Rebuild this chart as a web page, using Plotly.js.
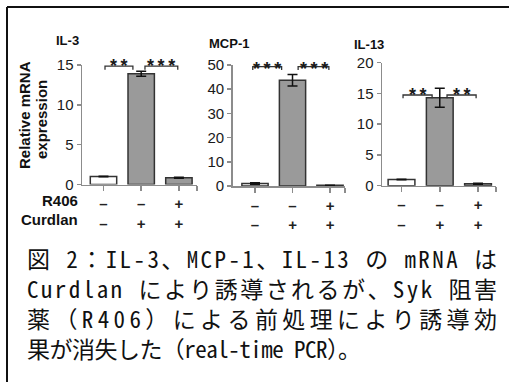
<!DOCTYPE html>
<html>
<head>
<meta charset="utf-8">
<script src="https://cdn.plot.ly/plotly-3.0.1.min.js"></script>
<style>
  html, body { margin: 0; padding: 0; background: #fff; }
  #chart { width: 509px; height: 382px; }
</style>
</head>
<body>
<div id="chart"></div>
<script>
// ---- data ----
const panelTitles = ['IL-3', 'MCP-1', 'IL-13'];
const groups = [0, 1, 2];
const r406 = ['–', '–', '+'];
const curdlan = ['–', '+', '+'];
const il3 = [1.0, 13.9, 0.85];
const il3Err = [0.03, 0.3, 0.05];
const mcp1 = [1.0, 43.7, 0.3];
const mcp1Err = [0.3, 2.4, 0.05];
const il13 = [1.0, 14.3, 0.3];
const il13Err = [0.05, 1.55, 0.08];
const yMax = [15, 50, 20];
const yTicks = [[0, 5, 10, 15], [0, 10, 20, 30, 40, 50], [0, 5, 10, 15, 20]];
const stars = [['**', '***'], ['***', '***'], ['**', '**']];
const yLabel1 = 'Relative mRNA';
const yLabel2 = 'expression';
const rowLabels = ['R406', 'Curdlan'];
const caption = [
  '図 2：IL-3、MCP-1、IL-13 の mRNA は',
  'Curdlan により誘導されるが、Syk 阻害',
  '薬（R406）による前処理により誘導効',
  '果が消失した（real-time PCR）。'
];

// ---- layout helpers (pixel -> paper) ----
const W = 509, H = 382;
const px = x => x / W;
const py = y => 1 - y / H;

const values = [il3, mcp1, il13];
const errs = [il3Err, mcp1Err, il13Err];
const xDom = [[82, 197], [232.7, 345], [382, 496]];
const yDom = [[184.5, 65], [186, 65], [185.7, 62.7]];
const xRange = [[-0.57, 2.48], [-0.595, 2.4], [-0.51, 2.47]];
const barFill = ['#ffffff', '#9a9a9a', '#9a9a9a'];
const axisGray = '#8c8c8c';
const sansFont = 'Liberation Sans, Arial, Helvetica, sans-serif';
const cjkFont = '"Noto Sans Mono CJK JP", "Noto Sans CJK JP", sans-serif';

const traces = [];
const layout = {
  width: W, height: H,
  margin: {l: 0, r: 0, t: 0, b: 0},
  paper_bgcolor: '#ffffff',
  plot_bgcolor: 'rgba(0,0,0,0)',
  showlegend: false,
  font: {family: sansFont, color: '#222'},
  shapes: [],
  annotations: []
};

for (let i = 0; i < 3; i++) {
  const s = i === 0 ? '' : String(i + 1);
  traces.push({
    type: 'bar',
    x: groups,
    y: values[i],
    width: 0.7,
    xaxis: 'x' + s,
    yaxis: 'y' + s,
    marker: {color: barFill, line: {color: '#333333', width: 1.5}},
    error_y: {type: 'data', array: errs[i], visible: true, color: '#111', thickness: 1.5, width: 5},
    hoverinfo: 'skip'
  });
  const xEnd = xRange[i][1] - 0.004;
  layout['xaxis' + s] = {
    domain: [px(xDom[i][0]), px(xDom[i][1])],
    range: xRange[i],
    anchor: 'y' + s,
    showgrid: false, zeroline: false,
    showline: true, linecolor: axisGray, linewidth: 1.5,
    ticks: 'outside', ticklen: 5, tickcolor: axisGray, tickwidth: 1.5,
    tickmode: 'array',
    tickvals: groups.concat([xEnd]),
    ticktext: groups.map(g => r406[g] + '<br>' + curdlan[g]).concat(['']),
    tickfont: {family: sansFont, size: 15, weight: 'bold', color: '#222'},
    fixedrange: true
  };
  layout['yaxis' + s] = {
    domain: [py(yDom[i][0]), py(yDom[i][1])],
    range: [0, yMax[i]],
    anchor: 'x' + s,
    showgrid: false, zeroline: false,
    showline: true, linecolor: axisGray, linewidth: 1.5,
    ticks: 'outside', ticklen: 4, tickcolor: axisGray, tickwidth: 1.5,
    tickmode: 'array', tickvals: yTicks[i],
    tickfont: {family: sansFont, size: 15, color: '#1a1a1a'},
    fixedrange: true
  };
}

// significance brackets (in data coordinates of each subplot)
const brackets = [
  {p: 0, y: 14.85, h: 0.45, segs: [[0.04, 0.78], [1.1, 1.97]]},
  {p: 1, y: 49.3, h: 1.4, segs: [[-0.06, 0.71], [1.15, 1.97]]},
  {p: 2, y: 14.75, h: 0.55, segs: [[0.04, 0.8], [1.19, 1.95]]}
];
const starY = [60, 62.5, 89];
brackets.forEach(b => {
  const s = b.p === 0 ? '' : String(b.p + 1);
  b.segs.forEach((seg, k) => {
    layout.shapes.push({
      type: 'path', xref: 'x' + s, yref: 'y' + s,
      path: `M ${seg[0]},${b.y - b.h} L ${seg[0]},${b.y} L ${seg[1]},${b.y} L ${seg[1]},${b.y - b.h}`,
      line: {color: '#333', width: 1.3}
    });
    layout.annotations.push({
      xref: 'x' + s, yref: 'paper',
      x: (seg[0] + seg[1]) / 2, y: py(starY[b.p] + 6),
      text: stars[b.p][k].split('').join('\u2009'),
      showarrow: false, xanchor: 'center', yanchor: 'middle',
      font: {family: sansFont, size: 18, weight: 'bold', color: '#1a1a1a'}
    });
  });
});

// panel titles
const titlePos = [[54, 40], [207, 43], [352, 44]];
panelTitles.forEach((t, i) => {
  layout.annotations.push({
    xref: 'paper', yref: 'paper', x: px(titlePos[i][0]), y: py(titlePos[i][1]),
    text: t, showarrow: false, xanchor: 'left', yanchor: 'middle',
    font: {family: sansFont, size: 13, weight: 'bold', color: '#111'}
  });
});

// y-axis title (two lines)
layout.annotations.push({
  xref: 'paper', yref: 'paper', x: px(24), y: py(115), text: yLabel1,
  textangle: -90, showarrow: false, xanchor: 'center', yanchor: 'middle',
  font: {family: sansFont, size: 15, weight: 'bold', color: '#111'}
});
layout.annotations.push({
  xref: 'paper', yref: 'paper', x: px(41), y: py(120), text: yLabel2,
  textangle: -90, showarrow: false, xanchor: 'center', yanchor: 'middle',
  font: {family: sansFont, size: 15, weight: 'bold', color: '#111'}
});

// row labels under the first panel
const rowY = [200, 219];
rowLabels.forEach((t, i) => {
  layout.annotations.push({
    xref: 'paper', yref: 'paper', x: px(80), y: py(rowY[i]), text: t,
    showarrow: false, xanchor: 'right', yanchor: 'middle',
    font: {family: sansFont, size: 15, weight: 'bold', color: '#111'}
  });
});

// caption (one block, four lines)
const capRight = [497, 497, 497, 361];
layout.annotations.push({
  xref: 'paper', yref: 'paper', x: px(25), y: py(303), text: caption.join('<br>'),
  showarrow: false, xanchor: 'left', yanchor: 'middle', align: 'left',
  font: {family: cjkFont, size: 23, color: '#111'}
});

// frame (top and left edges)
layout.shapes.push({type: 'line', xref: 'paper', yref: 'paper', x0: px(7), x1: 1, y0: py(7), y1: py(7), line: {color: '#111', width: 2}});
layout.shapes.push({type: 'line', xref: 'paper', yref: 'paper', x0: px(7), x1: px(7), y0: py(7), y1: 0, line: {color: '#111', width: 2}});

Plotly.newPlot('chart', traces, layout, {staticPlot: true, displayModeBar: false}).then(gd => {
  // justify caption lines like the original (distributed spacing)
  const root = gd.getBoundingClientRect();
  gd.querySelectorAll('.annotation-text tspan.line').forEach(el => {
    const idx = caption.indexOf(el.textContent);
    if (idx < 0) return;
    const r = el.getBoundingClientRect();
    const n = el.textContent.length;
    const extra = (root.left + capRight[idx]) - r.right;
    el.style.letterSpacing = (extra / (n - 1)).toFixed(3) + 'px';
  });
});
</script>
</body>
</html>
